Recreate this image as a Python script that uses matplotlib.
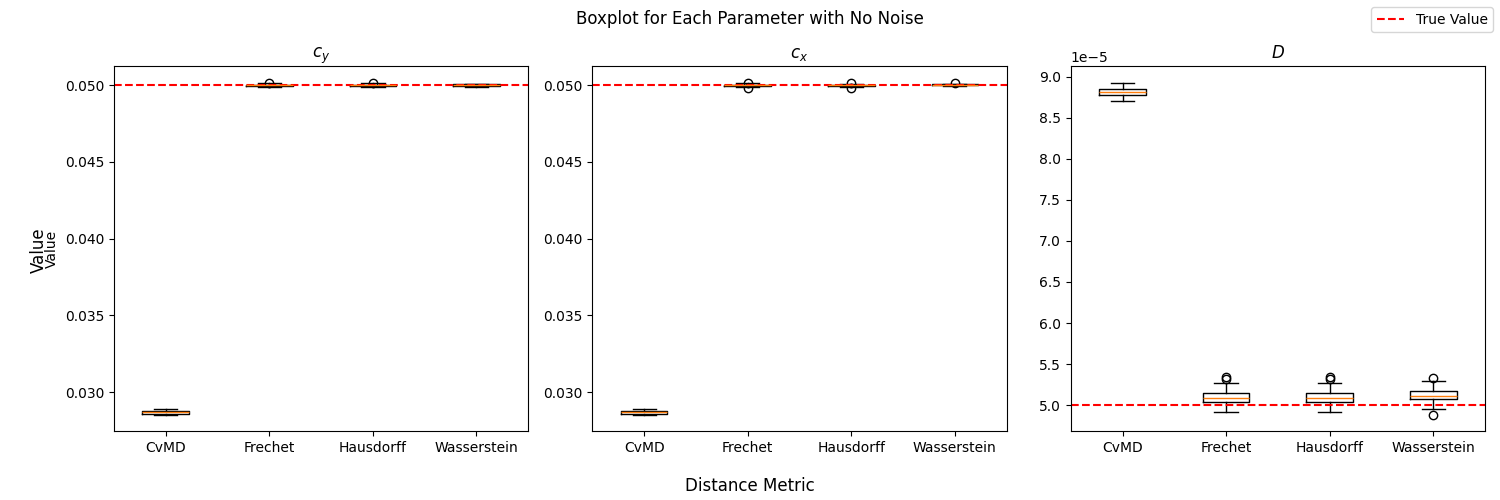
import numpy as np
from matplotlib import pyplot as plt

metrics = ['CvMD', 'Frechet', 'Hausdorff', 'Wasserstein']
params = ['$c_y$', '$c_x$', '$D$']
true_values = [0.05, 0.05, 5e-5]

# per metric: (whislo, q1, med, q3, whishi, fliers)
cy_stats = [
    (0.02852, 0.02860, 0.02867, 0.02874, 0.02890, []),
    (0.04988, 0.04995, 0.04999, 0.05003, 0.05010, [0.05015]),
    (0.04988, 0.04995, 0.04999, 0.05003, 0.05010, [0.05015]),
    (0.04990, 0.04996, 0.05000, 0.05004, 0.05008, []),
]
cx_stats = [
    (0.02852, 0.02860, 0.02867, 0.02874, 0.02890, []),
    (0.04988, 0.04993, 0.04998, 0.05003, 0.05010, [0.05015, 0.04983]),
    (0.04988, 0.04993, 0.04998, 0.05002, 0.05008, [0.05015, 0.04983]),
    (0.04992, 0.04997, 0.05000, 0.05004, 0.05008, [0.05015]),
]
d_stats = [
    (8.707e-5, 8.78e-5, 8.817e-5, 8.854e-5, 8.927e-5, []),
    (4.915e-5, 5.037e-5, 5.085e-5, 5.146e-5, 5.27e-5, [5.34e-5, 5.32e-5]),
    (4.915e-5, 5.037e-5, 5.085e-5, 5.146e-5, 5.27e-5, [5.34e-5, 5.32e-5]),
    (4.95e-5, 5.073e-5, 5.11e-5, 5.17e-5, 5.29e-5, [5.33e-5, 4.88e-5]),
]
all_stats = [cy_stats, cx_stats, d_stats]
ylims = [(0.02746, 0.05124), (0.02746, 0.05124), (4.683e-5, 9.134e-5)]


def to_bxp(stats):
    out = []
    for lo, q1, med, q3, hi, fl in stats:
        out.append(dict(whislo=lo, q1=q1, med=med, q3=q3, whishi=hi, fliers=fl))
    return out


fig, axes = plt.subplots(1, 3, figsize=(15, 5))
for i, ax in enumerate(axes):
    ax.bxp(to_bxp(all_stats[i]), positions=range(1, 5))
    ax.set_xticks(range(1, 5))
    ax.set_xticklabels(metrics)
    line = ax.axhline(true_values[i], color='red', linestyle='--', label='True Value')
    ax.set_title(params[i])
    ax.set_ylim(*ylims[i])
axes[0].set_ylabel('Value')

fig.suptitle('Boxplot for Each Parameter with No Noise')
fig.supxlabel('Distance Metric')
fig.supylabel('Value')
fig.legend(handles=[line], loc='upper right')
fig.subplots_adjust(left=0.076, right=0.99, top=0.868, bottom=0.138, wspace=0.155)
fig.savefig('out.png', dpi=100)
